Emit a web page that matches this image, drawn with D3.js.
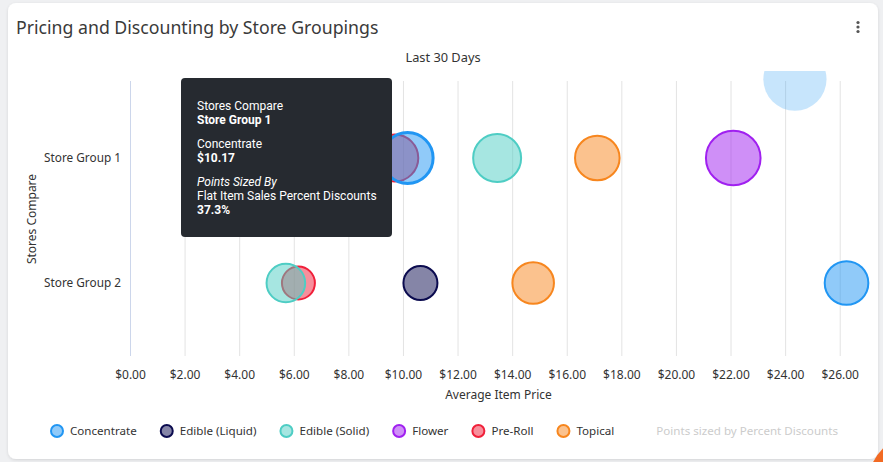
<!DOCTYPE html>
<html>
<head>
<meta charset="utf-8">
<script src="https://cdn.jsdelivr.net/npm/d3@7/dist/d3.min.js"></script>
<style>
  html, body { margin: 0; padding: 0; background: #eff0f2; }
  svg { display: block; }
</style>
</head>
<body>
<svg id="chart" width="883" height="462"></svg>
<script>
// ---------- DATA ----------
const chartTitle = "Pricing and Discounting by Store Groupings";
const subtitle = "Last 30 Days";
const categories = ["Store Group 1", "Store Group 2"];
const seriesNames = ["Concentrate", "Edible (Liquid)", "Edible (Solid)", "Flower", "Pre-Roll", "Topical"];
const seriesColors = ["#2196F3", "#0B0B4F", "#4ECDC4", "#A020F0", "#F0203A", "#F7861E"];
// average item price per series, for each store group (null = no point)
const priceGroup1 = [10.17, null, 13.45, 22.10, 9.70, 17.12];
const priceGroup2 = [26.25, 10.64, 5.71, null, 6.17, 14.77];
// flat item sales percent discounts (bubble size)
const discountGroup1 = [37.3, null, 33.0, 42.8, 31.7, 28.5];
const discountGroup2 = [27.3, 16.6, 21.4, null, 15.6, 24.8];
const xTicks = [0, 2, 4, 6, 8, 10, 12, 14, 16, 18, 20, 22, 24, 26];
const xAxisTitle = "Average Item Price";
const yAxisTitle = "Stores Compare";
const sizeNote = "Points sized by Percent Discounts";
// hovered point (tooltip) and the stray hover halo seen in the picture
const hovered = { series: 0, category: 0 };
const halo = { series: 0, price: 24.36, row: -0.63, discount: 57.3 };

// ---------- BUILD ----------
const svg = d3.select("#chart");
const FONT = "'Noto Sans', 'Open Sans', sans-serif";

// card
const defs = svg.append("defs");
const f = defs.append("filter").attr("id", "shadow").attr("x", "-5%").attr("y", "-5%").attr("width", "110%").attr("height", "110%");
f.append("feDropShadow").attr("dx", 0).attr("dy", 1).attr("stdDeviation", 1.5).attr("flood-color", "#000").attr("flood-opacity", 0.12);
svg.append("rect").attr("x", 8).attr("y", 3).attr("width", 870).attr("height", 456)
  .attr("rx", 8).attr("fill", "#fff").attr("filter", "url(#shadow)");

// title
svg.append("text").attr("x", 16).attr("y", 33.5).text(chartTitle)
  .attr("font-family", FONT).attr("font-size", 17.7).attr("fill", "#3a3a3a");
// menu dots
[22.5, 27, 31.5].forEach(cy => svg.append("circle").attr("cx", 858).attr("cy", cy).attr("r", 1.6).attr("fill", "#555"));

svg.append("text").attr("x", 443).attr("y", 62).attr("text-anchor", "middle").text(subtitle)
  .attr("font-family", FONT).attr("font-size", 12.8).attr("fill", "#333");

// scales
const plotTop = 81, plotBottom = 356, plotLeft = 130, plotRight = 867;
const x = d3.scaleLinear().domain([0, 27]).range([plotLeft, plotRight]);
const y = d3.scaleLinear().domain([-0.616, 1.584]).range([plotTop, plotBottom]);
const r = d3.scaleSqrt().domain([0, 37.3]).range([0, 25.5]);
const color = d3.scaleOrdinal().domain(seriesNames).range(seriesColors);
const fillOf = c => { const k = d3.color(c); k.opacity = 0.5; return k + ""; };

// gridlines via axis
const gridAxis = d3.axisBottom(x).tickValues(xTicks.filter(t => t > 0)).tickSize(-(plotBottom - plotTop)).tickFormat("");
const grid = svg.append("g").attr("transform", `translate(0,${plotBottom})`).call(gridAxis);
grid.select(".domain").remove();
grid.selectAll("line").attr("stroke", "#e3e3e3").attr("stroke-width", 1);

// x axis labels
const xAxis = d3.axisBottom(x).tickValues(xTicks).tickSize(0).tickPadding(0).tickFormat(d => "$" + d3.format(".2f")(d));
const xg = svg.append("g").attr("transform", `translate(0,378.5)`).call(xAxis);
xg.select(".domain").remove();
xg.selectAll("text").attr("dy", 0).attr("font-family", FONT).attr("font-size", 12).attr("fill", "#333");

// y axis line + labels
svg.append("line").attr("x1", plotLeft + 0.5).attr("x2", plotLeft + 0.5).attr("y1", plotTop).attr("y2", plotBottom)
  .attr("stroke", "#ccd6eb").attr("stroke-width", 1);
const yAxis = d3.axisLeft(y).tickValues(categories.map((c, i) => i)).tickSize(0).tickPadding(0).tickFormat(i => categories[i]);
const yg = svg.append("g").attr("transform", `translate(121,0)`).call(yAxis);
yg.select(".domain").remove();
yg.selectAll("text").attr("dy", "0.32em").attr("font-family", FONT).attr("font-size", 11.8).attr("fill", "#333");

// axis titles
svg.append("text").attr("x", (plotLeft + plotRight) / 2).attr("y", 398.5).attr("text-anchor", "middle").text(xAxisTitle)
  .attr("font-family", FONT).attr("font-size", 12).attr("fill", "#333");
svg.append("text").attr("transform", "translate(35.5,219) rotate(-90)").attr("text-anchor", "middle").text(yAxisTitle)
  .attr("font-family", FONT).attr("font-size", 12).attr("fill", "#333");

// points
const points = [];
seriesNames.forEach((s, si) => {
  [priceGroup1, priceGroup2].forEach((arr, ci) => {
    const p = arr[si];
    if (p == null) return;
    const z = (ci === 0 ? discountGroup1 : discountGroup2)[si];
    points.push({ series: s, si, ci, price: p, discount: z, hover: si === hovered.series && ci === hovered.category });
  });
});
// draw later series first so earlier series sit on top; hovered series last
points.sort((a, b) => (a.hover - b.hover) || (b.si - a.si));

defs.append("clipPath").attr("id", "plotclip").append("rect")
  .attr("x", plotLeft - 40).attr("y", 71).attr("width", plotRight - plotLeft + 60).attr("height", plotBottom - 71 + 20);
const pg = svg.append("g").attr("clip-path", "url(#plotclip)");

pg.append("circle")
  .attr("cx", x(halo.price)).attr("cy", y(halo.row)).attr("r", r(halo.discount))
  .attr("fill", color(seriesNames[halo.series])).attr("fill-opacity", 0.25);

pg.selectAll("circle.pt").data(points).join("circle").attr("class", "pt")
  .attr("cx", d => x(d.price)).attr("cy", d => y(d.ci)).attr("r", d => r(d.discount))
  .attr("fill", d => fillOf(color(d.series)))
  .attr("stroke", d => color(d.series)).attr("stroke-width", d => d.hover ? 3 : 2);

// legend
const lg = svg.append("g").attr("font-family", FONT).attr("font-size", 11.6);
let cx = 57;
let lastEnd = 0;
seriesNames.forEach((s, i) => {
  lg.append("circle").attr("cx", cx).attr("cy", 431).attr("r", 6)
    .attr("fill", fillOf(color(s))).attr("stroke", color(s)).attr("stroke-width", 2);
  const t = lg.append("text").attr("x", cx + 13).attr("y", 435).attr("fill", "#333").text(s);
  lastEnd = cx + 13 + t.node().getComputedTextLength();
  cx = lastEnd + 30;
});
lg.append("text").attr("x", lastEnd + 42).attr("y", 435).attr("fill", "#cccccc").text(sizeNote);

// tooltip
const tg = svg.append("g").attr("font-family", "Roboto, 'Liberation Sans', sans-serif").attr("font-size", 12).attr("fill", "#fff");
tg.append("rect").attr("x", 181).attr("y", 78).attr("width", 211).attr("height", 159).attr("rx", 4).attr("fill", "#262a30");
const hp = { cat: categories[hovered.category], ser: seriesNames[hovered.series],
  price: [priceGroup1, priceGroup2][hovered.category][hovered.series],
  disc: [discountGroup1, discountGroup2][hovered.category][hovered.series] };
const tipLines = [
  { t: yAxisTitle, y: 110 },
  { t: hp.cat, y: 124, w: "bold" },
  { t: hp.ser, y: 148 },
  { t: "$" + d3.format(".2f")(hp.price), y: 162, w: "bold" },
  { t: "Points Sized By", y: 186, s: "italic" },
  { t: "Flat Item Sales Percent Discounts", y: 200 },
  { t: d3.format(".1f")(hp.disc) + "%", y: 214, w: "bold" }
];
tipLines.forEach(l => tg.append("text").attr("x", 197).attr("y", l.y).text(l.t)
  .attr("font-weight", l.w || "normal").attr("font-style", l.s || "normal"));

// floating page button at corner
svg.append("circle").attr("cx", 918).attr("cy", 484).attr("r", 50).attr("fill", "#f26a23");
</script>
</body>
</html>
